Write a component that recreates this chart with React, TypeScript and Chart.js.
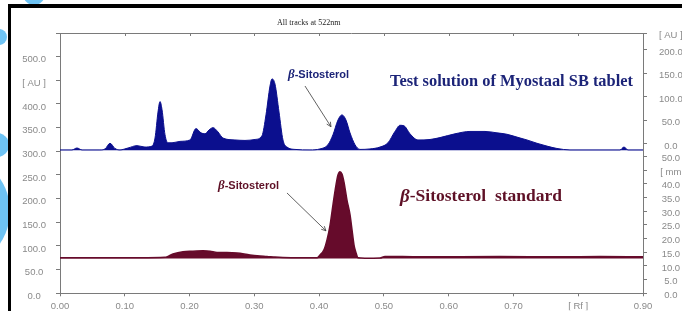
import React, { useEffect, useRef } from 'react';
import { Chart, registerables } from 'chart.js';

Chart.register(...registerables);

// ---------- data ----------
const xTickLabels = ['0.00', '0.10', '0.20', '0.30', '0.40', '0.50', '0.60', '0.70', '[ Rf ]', '0.90'];
const leftTickLabels = ['0.0', '50.0', '100.0', '150.0', '200.0', '250.0', '300.0', '350.0', '400.0', '[ AU ]', '500.0', ''];

// right axis: lower track in mm, upper track in AU
const rightBottomTicksMm = [0, 5, 10, 15, 20, 25, 30, 35, 40, 45, 50];
const rightBottomLabels = ['0.0', '5.0', '10.0', '15.0', '20.0', '25.0', '30.0', '35.0', '40.0', '[ mm', '50.0'];
const rightTopTicksAu = [0, 50, 100, 150, 200];
const rightTopLabels = ['0.0', '50.0', '100.0', '150.0', '200.0'];
const rightTopUnit = '[ AU ]';
const MM_TO_AXIS = 5.785;
const AU_TOP_ZERO = 315.7;
const AU_TOP_SCALE = 0.992;

// Test solution of Myostaal SB tablet (upper track)
const testRf = [0, 0.0185, 0.0262, 0.034, 0.0617, 0.0695, 0.0772, 0.0849, 0.0926, 0.105, 0.1189, 0.1312, 0.142, 0.1467, 0.1513, 0.1544, 0.1575, 0.1621, 0.1667, 0.1729, 0.1852, 0.2007, 0.2099, 0.2177, 0.2238, 0.23, 0.2362, 0.2439, 0.2516, 0.2701, 0.2856, 0.301, 0.3118, 0.318, 0.3242, 0.3273, 0.3319, 0.3381, 0.3442, 0.3504, 0.3628, 0.3859, 0.4013, 0.4137, 0.4214, 0.4291, 0.4353, 0.4415, 0.4477, 0.4554, 0.4631, 0.4785, 0.494, 0.5063, 0.5171, 0.5249, 0.531, 0.5403, 0.5526, 0.5712, 0.5866, 0.6098, 0.6329, 0.6561, 0.6746, 0.69, 0.7055, 0.7209, 0.7363, 0.7518, 0.7672, 0.7873, 0.8336, 0.8645, 0.8706, 0.8768, 0.9];
const testAU = [303, 303, 307, 303, 303, 305, 317, 306, 303, 307, 312, 309, 311, 328, 383, 405, 388, 335, 318, 318, 321, 324, 348, 339, 337, 345, 350, 341, 328, 324, 323, 325, 333, 377, 438, 453, 442, 383, 324, 309, 304, 303, 305, 314, 335, 366, 377, 366, 339, 314, 304, 305, 309, 318, 342, 355, 354, 337, 324, 325, 329, 337, 342, 342, 339, 336, 330, 324, 317, 311, 306, 303, 303, 303, 309, 303, 303];
const testBase = 302;

// beta-Sitosterol standard (lower track)
const stdRf = [0, 0.0617, 0.1235, 0.1621, 0.1667, 0.1744, 0.1899, 0.2053, 0.2208, 0.2316, 0.2424, 0.2578, 0.2732, 0.2933, 0.3087, 0.3195, 0.3319, 0.3442, 0.3705, 0.3967, 0.4013, 0.4075, 0.4122, 0.4168, 0.4214, 0.4261, 0.4291, 0.4322, 0.4353, 0.4384, 0.443, 0.4477, 0.4508, 0.4539, 0.4569, 0.46, 0.4708, 0.494, 0.5017, 0.5557, 0.6792, 0.7719, 0.8336, 0.9];
const stdAU = [75, 75, 75, 76, 78, 83, 88, 89, 90, 89, 86, 86, 85, 81, 79, 78, 76.5, 75.6, 75, 75, 81, 92, 113, 143, 187, 229, 250, 257, 252, 235, 197, 166, 134, 102, 86, 75, 74, 74.5, 78, 77, 77.5, 77, 77.5, 77];
const stdBase = 73.5;

const BLUE = '#0b0f8e';
const MAROON = '#660b2b';
const NAVY_TEXT = '#1c2478';
const MAROON_TEXT = '#5e1026';
const AXIS = '#7a7a7a';
const TICK_TEXT = '#8a8a8a';
const RING = '#6ec3f4';

// annotation anchors (in Rf / left-axis units)
const notes = {
  topPeak: { rf: 0.352, v: 461, text: '-Sitosterol' },
  topArrow: { rf1: 0.3782, v1: 438, rf2: 0.4183, v2: 352 },
  topTitle: { rf: 0.5094, v: 446, text: 'Test solution of Myostaal SB tablet' },
  stdPeak: { rf: 0.2439, v: 227, text: '-Sitosterol' },
  stdArrow: { rf1: 0.3504, v1: 212, rf2: 0.4106, v2: 132 },
  stdTitle: { rf: 0.5249, v: 204, text: '-Sitosterol  standard' },
};
const chartTitle = 'All tracks at 522nm';

const rightTicks: { v: number; label: string }[] = [
  ...rightBottomTicksMm.map((m, i) => ({ v: m * MM_TO_AXIS, label: rightBottomLabels[i] })),
  ...rightTopTicksAu.map((a, i) => ({ v: AU_TOP_ZERO + a * AU_TOP_SCALE, label: rightTopLabels[i] })),
  { v: 550, label: rightTopUnit },
];

const W = 682;
const H = 311;

function drawArrow(ctx: CanvasRenderingContext2D, x1: number, y1: number, x2: number, y2: number) {
  ctx.save();
  ctx.strokeStyle = '#3a3a3a';
  ctx.lineWidth = 0.8;
  ctx.beginPath();
  ctx.moveTo(x1, y1);
  ctx.lineTo(x2, y2);
  ctx.stroke();
  const ang = Math.atan2(y2 - y1, x2 - x1);
  const len = 5;
  ctx.beginPath();
  ctx.moveTo(x2 - len * Math.cos(ang - 0.45), y2 - len * Math.sin(ang - 0.45));
  ctx.lineTo(x2, y2);
  ctx.lineTo(x2 - len * Math.cos(ang + 0.45), y2 - len * Math.sin(ang + 0.45));
  ctx.stroke();
  ctx.restore();
}

function drawBeta(ctx: CanvasRenderingContext2D, x: number, y: number, betaFont: string, restFont: string, rest: string, color: string) {
  ctx.save();
  ctx.fillStyle = color;
  ctx.textAlign = 'left';
  ctx.textBaseline = 'middle';
  ctx.font = betaFont;
  ctx.fillText('β', x, y);
  const bw = ctx.measureText('β').width;
  ctx.font = restFont;
  ctx.fillText(rest, x + bw, y);
  ctx.restore();
}

const decorPlugin = {
  id: 'decor',
  beforeDraw(chart: any) {
    const ctx: CanvasRenderingContext2D = chart.ctx;
    ctx.save();
    ctx.fillStyle = '#ffffff';
    ctx.fillRect(0, 0, W, H);
    ctx.fillStyle = RING;
    const rings = [
      [34, -6, 11],
      [-1, 37, 8],
      [-3, 145, 12],
      [-48, 211, 58],
    ];
    rings.forEach(([x, y, r]) => {
      ctx.beginPath();
      ctx.arc(x, y, r, 0, Math.PI * 2);
      ctx.fill();
    });
    ctx.fillStyle = '#ffffff';
    ctx.fillRect(9, 6, W, H);
    ctx.fillStyle = '#000000';
    ctx.fillRect(8, 4, W, 4);
    ctx.fillRect(8, 4, 3, H);
    // title
    const xs = chart.scales.x;
    ctx.fillStyle = '#222';
    ctx.font = '8px "Liberation Serif"';
    ctx.textAlign = 'center';
    ctx.textBaseline = 'middle';
    ctx.fillText(chartTitle, xs.getPixelForValue(0.384), 23);
    ctx.restore();
  },
  afterDatasetsDraw(chart: any) {
    const ctx: CanvasRenderingContext2D = chart.ctx;
    const xs = chart.scales.x;
    const ys = chart.scales.y;
    const a = chart.chartArea;
    ctx.save();
    // top frame line with ticks
    ctx.strokeStyle = AXIS;
    ctx.lineWidth = 1;
    ctx.beginPath();
    ctx.moveTo(a.left, a.top + 0.5);
    ctx.lineTo(a.right, a.top + 0.5);
    ctx.stroke();
    xs.ticks.forEach((t: any) => {
      const px = Math.round(xs.getPixelForValue(t.value)) + 0.5;
      ctx.beginPath();
      ctx.moveTo(px, a.top);
      ctx.lineTo(px, a.top + 3);
      ctx.stroke();
    });
    ctx.restore();

    const P = (rf: number, v: number) => [xs.getPixelForValue(rf), ys.getPixelForValue(v)];
    let [x, y] = P(notes.topPeak.rf, notes.topPeak.v);
    drawBeta(ctx, x, y, 'italic bold 13px "Liberation Serif"', 'bold 11px "Liberation Sans"', notes.topPeak.text, NAVY_TEXT);
    let [x1, y1] = P(notes.topArrow.rf1, notes.topArrow.v1);
    let [x2, y2] = P(notes.topArrow.rf2, notes.topArrow.v2);
    drawArrow(ctx, x1, y1, x2, y2);
    [x, y] = P(notes.topTitle.rf, notes.topTitle.v);
    ctx.save();
    ctx.fillStyle = NAVY_TEXT;
    ctx.font = 'bold 16.4px "Liberation Serif"';
    ctx.textAlign = 'left';
    ctx.textBaseline = 'middle';
    ctx.fillText(notes.topTitle.text, x, y);
    ctx.restore();

    [x, y] = P(notes.stdPeak.rf, notes.stdPeak.v);
    drawBeta(ctx, x, y, 'italic bold 13px "Liberation Serif"', 'bold 11px "Liberation Sans"', notes.stdPeak.text, MAROON_TEXT);
    [x1, y1] = P(notes.stdArrow.rf1, notes.stdArrow.v1);
    [x2, y2] = P(notes.stdArrow.rf2, notes.stdArrow.v2);
    drawArrow(ctx, x1, y1, x2, y2);
    [x, y] = P(notes.stdTitle.rf, notes.stdTitle.v);
    drawBeta(ctx, x, y, 'italic bold 19px "Liberation Serif"', 'bold 17.5px "Liberation Serif"', notes.stdTitle.text, MAROON_TEXT);
  },
};

const tickFont = { family: '"Liberation Sans", Arial, sans-serif', size: 9.5 };

export default function App() {
  const ref = useRef<HTMLCanvasElement | null>(null);
  useEffect(() => {
    document.body.style.margin = '0';
    const canvas = ref.current;
    if (!canvas) return;
    const chart = new Chart(canvas, {
      type: 'line',
      data: {
        datasets: [
          {
            label: 'Test solution of Myostaal SB tablet',
            data: testRf.map((x, i) => ({ x, y: testAU[i] })),
            borderColor: BLUE,
            backgroundColor: BLUE,
            borderWidth: 1,
            pointRadius: 0,
            fill: { value: testBase },
            cubicInterpolationMode: 'monotone',
          },
          {
            label: 'β-Sitosterol standard',
            data: stdRf.map((x, i) => ({ x, y: stdAU[i] })),
            borderColor: MAROON,
            backgroundColor: MAROON,
            borderWidth: 1.5,
            pointRadius: 0,
            fill: { value: stdBase },
            cubicInterpolationMode: 'monotone',
          },
        ],
      },
      options: {
        responsive: false,
        animation: false,
        layout: { padding: { left: 10, top: 33, right: 0, bottom: 0 } },
        plugins: { legend: { display: false }, tooltip: { enabled: false }, title: { display: false } },
        scales: {
          x: {
            type: 'linear',
            min: 0,
            max: 0.9,
            ticks: {
              stepSize: 0.1,
              autoSkip: false,
              maxRotation: 0,
              padding: 4,
              color: TICK_TEXT,
              font: tickFont,
              callback: (_v: any, i: number) => xTickLabels[i],
            },
            grid: { drawOnChartArea: false, tickLength: 3, color: AXIS },
            border: { color: AXIS },
            afterFit: (s: any) => {
              s.height = 17;
            },
          },
          y: {
            position: 'left',
            min: 0,
            max: 550,
            ticks: {
              stepSize: 50,
              autoSkip: false,
              crossAlign: 'center',
              labelOffset: 3,
              padding: 10,
              color: TICK_TEXT,
              font: tickFont,
              callback: (_v: any, i: number) => leftTickLabels[i],
            },
            grid: { drawOnChartArea: false, tickLength: 4, color: AXIS },
            border: { color: AXIS },
            afterFit: (s: any) => {
              s.width = 50;
            },
          },
          yR: {
            position: 'right',
            min: 0,
            max: 550,
            afterBuildTicks: (s: any) => {
              s.ticks = rightTicks.map((t) => ({ value: t.v }));
            },
            ticks: {
              autoSkip: false,
              crossAlign: 'center',
              labelOffset: 2,
              padding: 12,
              color: TICK_TEXT,
              font: tickFont,
              callback: (_v: any, i: number) => rightTicks[i].label,
            },
            grid: { drawOnChartArea: false, tickLength: 4, color: AXIS },
            border: { color: AXIS },
            afterFit: (s: any) => {
              s.width = 39;
            },
          },
        },
      },
      plugins: [decorPlugin],
    } as any);
    return () => chart.destroy();
  }, []);
  return (
    <div style={{ width: W, height: H, overflow: 'hidden', position: 'relative' }}>
      <canvas ref={ref} width={W} height={H} style={{ display: 'block' }} />
    </div>
  );
}
